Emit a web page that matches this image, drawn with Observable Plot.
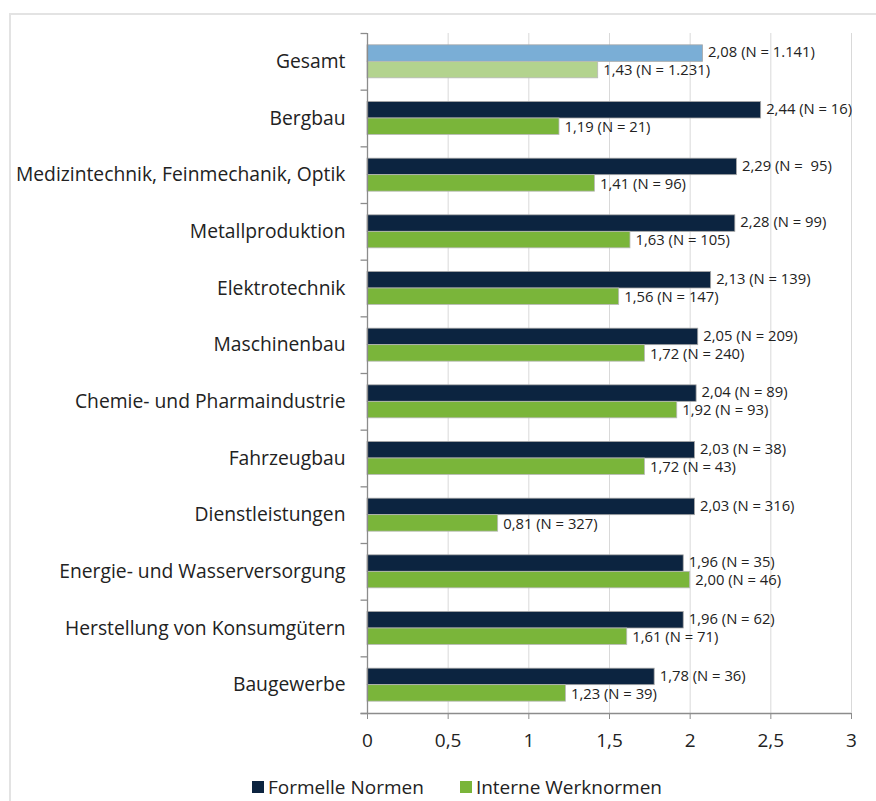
<!DOCTYPE html>
<html>
<head>
<meta charset="utf-8">
<script src="https://cdn.jsdelivr.net/npm/d3@7"></script>
<script src="https://cdn.jsdelivr.net/npm/@observablehq/plot@0.6"></script>
<style>
  html, body { margin: 0; padding: 0; background: #fff; }
  #frame {
    position: absolute; left: 9px; top: 13px; width: 867px; height: 788px;
    border-left: 2px solid #e3e3e3; border-top: 2px solid #e3e3e3;
    box-sizing: border-box;
  }
  #chart { position: absolute; left: 0; top: 0; }
  #chart svg text { white-space: pre; }
  #legend {
    position: absolute; left: 252px; top: 774px;
    font-family: "Open Sans", sans-serif; font-size: 19px; line-height: 26px; color: #222;
    display: flex; gap: 36px; align-items: center;
  }
  #legend span.item { display: inline-flex; align-items: center; }
  #legend span.sw { display: inline-block; width: 12px; height: 12px; margin-right: 4px; }
</style>
</head>
<body>
<div id="frame"></div>
<div id="chart"></div>
<div id="legend">
  <span class="item"><span class="sw" style="background:#0c2440"></span>Formelle Normen</span>
  <span class="item"><span class="sw" style="background:#7ab53a"></span>Interne Werknormen</span>
</div>
<script>
// Branchen (von oben nach unten)
const categories = [
  "Gesamt",
  "Bergbau",
  "Medizintechnik, Feinmechanik, Optik",
  "Metallproduktion",
  "Elektrotechnik",
  "Maschinenbau",
  "Chemie- und Pharmaindustrie",
  "Fahrzeugbau",
  "Dienstleistungen",
  "Energie- und Wasserversorgung",
  "Herstellung von Konsumgütern",
  "Baugewerbe"
];

// Formelle Normen: Mittelwert und Fallzahl
const formelleWerte = [2.08, 2.44, 2.29, 2.28, 2.13, 2.05, 2.04, 2.03, 2.03, 1.96, 1.96, 1.78];
const formelleN     = ["1.141", "16", " 95", "99", "139", "209", "89", "38", "316", "35", "62", "36"];

// Interne Werknormen: Mittelwert und Fallzahl
const interneWerte = [1.43, 1.19, 1.41, 1.63, 1.56, 1.72, 1.92, 1.72, 0.81, 2.00, 1.61, 1.23];
const interneN     = ["1.231", "21", "96", "105", "147", "240", "93", "43", "327", "46", "71", "39"];

const xTicks = [0, 0.5, 1, 1.5, 2, 2.5, 3];

const navy = "#0c2440", green = "#7ab53a";
const navyLight = "#7aaed6", greenLight = "#b3d38e";

const fmt = v => v.toFixed(2).replace(".", ",");

const formelle = categories.map((c, i) => ({
  kategorie: c, wert: formelleWerte[i],
  label: `${fmt(formelleWerte[i])} (N = ${formelleN[i]})`,
  farbe: i === 0 ? navyLight : navy
}));
const interne = categories.map((c, i) => ({
  kategorie: c, wert: interneWerte[i],
  label: `${fmt(interneWerte[i])} (N = ${interneN[i]})`,
  farbe: i === 0 ? greenLight : green
}));

const height = 770;
const marginTop = 33, marginBottom = 57;
const band = (height - marginTop - marginBottom) / categories.length;
const barH = 16.5;
const outer = (band - 2 * barH) / 2;

const chart = Plot.plot({
  width: 876,
  height,
  marginLeft: 367,
  marginRight: 25,
  marginTop,
  marginBottom,
  style: { fontFamily: "Open Sans, sans-serif", color: "#222", background: "transparent" },
  x: { domain: [0, 3] },
  y: { domain: categories, padding: 0, round: false },
  marks: [
    // vertikale Gitternetzlinien
    Plot.ruleX(xTicks.slice(1), { stroke: "#d9d9d9", strokeWidth: 1 }),
    // Balken: Formelle Normen (obere Hälfte)
    Plot.barX(formelle, {
      x: "wert", y: "kategorie", fill: "farbe",
      insetTop: outer, insetBottom: band - outer - barH,
      stroke: "#a8a8a8", strokeWidth: 0.8
    }),
    // Balken: Interne Werknormen (untere Hälfte)
    Plot.barX(interne, {
      x: "wert", y: "kategorie", fill: "farbe",
      insetTop: outer + barH, insetBottom: outer,
      stroke: "#b8b8b8", strokeWidth: 0.8
    }),
    // Wertbeschriftungen
    Plot.text(formelle, {
      x: "wert", y: "kategorie", text: "label",
      textAnchor: "start", dx: 5, dy: -band / 2 + outer + barH / 2 - 1,
      fontSize: 14.8, fill: "#222"
    }),
    Plot.text(interne, {
      x: "wert", y: "kategorie", text: "label",
      textAnchor: "start", dx: 5, dy: -band / 2 + outer + barH * 1.5 + 0.5,
      fontSize: 14.8, fill: "#222"
    }),
    // y-Achsenlinie mit Trennstrichen zwischen den Kategorien
    Plot.ruleX([0], { stroke: "#8c8c8c", strokeWidth: 1.3 }),
    Plot.ruleY(categories, {
      y: d => d, x1: 0, x2: -0.04, dy: -band / 2,
      stroke: "#8c8c8c", strokeWidth: 1.3
    }),
    Plot.ruleY([categories[categories.length - 1]], {
      y: d => d, x1: 0, x2: -0.04, dy: band / 2,
      stroke: "#8c8c8c", strokeWidth: 1.3
    }),
    // x-Achsenlinie
    Plot.ruleY([0], {
      y: () => categories[categories.length - 1], dy: band / 2,
      x1: -0.04, x2: 3, stroke: "#8c8c8c", strokeWidth: 1.3
    }),
    Plot.axisY({
      tickSize: 0, tickPadding: 22, fontSize: 19.3, label: null
    }),
    Plot.axisX({
      ticks: xTicks, tickSize: 6, tickPadding: 14, fontSize: 19, dy: 0,
      stroke: "#8c8c8c", label: null,
      tickFormat: d => String(d).replace(".", ",")
    })
  ]
});

document.getElementById("chart").append(chart);
</script>
</body>
</html>
